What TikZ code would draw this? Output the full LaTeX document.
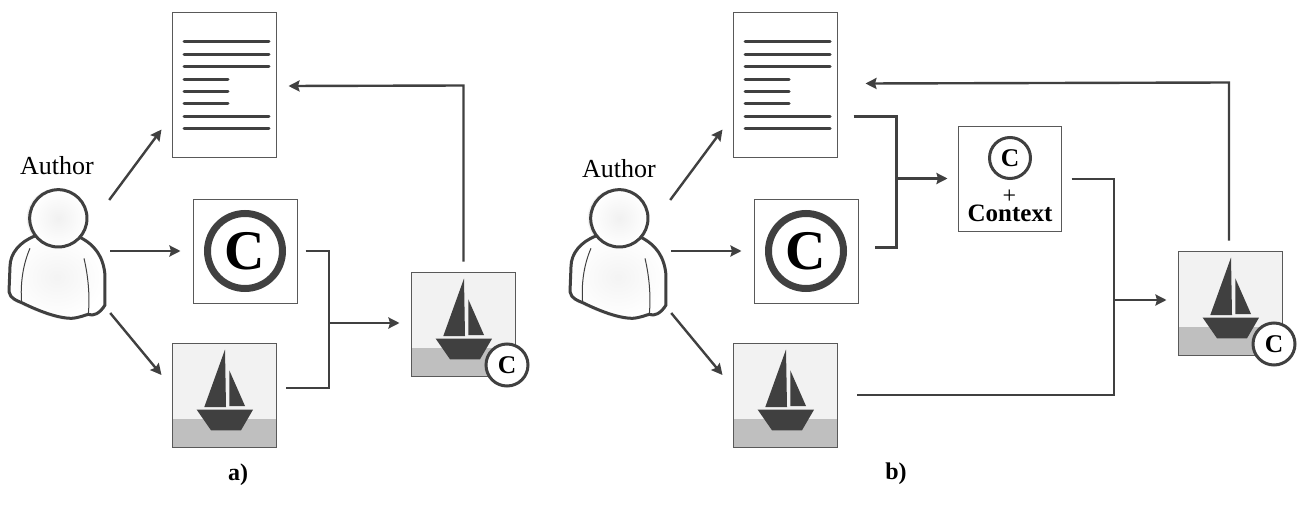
\documentclass[tikz,border=0pt]{standalone}
\usepackage{fontspec}
\setmainfont{Liberation Serif}
\usetikzlibrary{arrows.meta}
\definecolor{ink}{HTML}{404040}
\definecolor{edge}{HTML}{595959}
\definecolor{sky}{HTML}{F2F2F2}
\definecolor{water}{HTML}{BFBFBF}
\tikzset{
 flow/.style={draw=ink,line width=2.4pt},
 arrowflow/.style={flow,-{Stealth[length=11pt,width=11pt,inset=1.5pt]}},
 card/.style={draw=edge,line width=1pt,inner sep=0pt,minimum width=104pt,minimum height=104pt,fill=white},
 txtline/.style={draw=ink,line width=3pt,line cap=round},
 outline/.style={draw=ink,line width=3pt,line join=round},
 badge/.style={circle,draw=ink,line width=3pt,fill=white,inner sep=0pt,minimum size=42pt,font=\fontsize{25.5}{26}\selectfont\bfseries},
 label/.style={inner sep=0pt,font=\fontsize{26}{26}\selectfont},
 capt/.style={inner sep=0pt,font=\fontsize{24}{26}\selectfont\bfseries},
 ghost/.style={inner sep=0pt,minimum width=100pt,minimum height=130pt},
}
% document icon: #1 name, #2 x offset
\newcommand{\docicon}[2]{%
 \node[card,minimum height=145pt] (#1) at (#2+224,85.5) {};
 \begin{scope}[shift={(#2,0)}]
 \foreach \yy in {42,54.5,67,116.5,129}{\draw[txtline] (184,\yy) -- (269,\yy);}
 \foreach \yy in {79.5,92,104}{\draw[txtline] (184,\yy) -- (228,\yy);}
 \end{scope}}
% boat drawing at box top-left
\newcommand{\boatshape}[2]{%
 \begin{scope}[shift={(#1,#2)}]
 \fill[sky] (0,0) rectangle (104,76);
 \fill[water] (0,76) rectangle (104,104);
 \fill[ink] (53,6.5) -- (32.3,64) -- (54,64) -- cycle;
 \fill[ink] (57.3,27.3) -- (57.3,63) -- (73,63) -- cycle;
 \fill[ink] (24.7,66.7) -- (81,66.7) -- (69,87.3) -- (39,87.3) -- cycle;
 \draw[edge,line width=1pt] (0,0) rectangle (104,104);
 \end{scope}}
\newcommand{\boatcard}[3]{%
 \node[card,draw=none,fill=none] (#1) at (#2+52,#3+52) {};
 \boatshape{#2}{#3}}
% copyright card
\newcommand{\ccard}[2]{%
 \node[card] (#1) at (#2+245,251) {};
 \node[circle,draw=ink,line width=7pt,inner sep=0pt,minimum size=75pt,font=\fontsize{56}{56}\selectfont\bfseries] at (#1.center) {C};}
% person, drawn in the units of a 3x crop
\newcommand{\persondraw}[2]{%
 \node[ghost] (#1) at (#2+58,255) {};
 \begin{scope}[shift={(#2,150)},x=0.3333pt,y=-0.3333pt]
 \def\bodypath{(105,258) .. controls (60,275) and (30,310) .. (30,350) -- (27,425) .. controls (30,445) and (50,452) .. (65,458) .. controls (110,480) and (170,505) .. (215,505) .. controls (240,503) and (255,495) .. (265,493) .. controls (280,500) and (300,490) .. (315,465) -- (315,375) .. controls (310,320) and (285,285) .. (240,262) -- cycle}
 \fill[black,opacity=0.05,shift={(-4,5)}] \bodypath;
 \fill[black,opacity=0.05,shift={(-5,0)}] (175,205) circle (90);
 \shade[inner color=gray!9,outer color=white] \bodypath;
 \draw[outline] \bodypath;
 \draw[ink,line width=1pt] (90,295) .. controls (70,340) and (60,400) .. (65,458);
 \draw[ink,line width=1pt] (252,325) .. controls (265,380) and (270,440) .. (265,492);
 \shade[inner color=gray!11,outer color=white] (175,205) circle (86);
 \draw[outline] (175,205) circle (86);
 \end{scope}}
\begin{document}
\begin{tikzpicture}[x=1pt,y=-1pt]
\useasboundingbox (0,0) rectangle (1301,516);
\fill[white] (0,0) rectangle (1301,516);
% ---------- panel a
\node[label] (authorA) at (57,166) {Author};
\persondraw{personA}{0}
\docicon{docA}{0}
\ccard{copyA}{0}
\boatcard{boatA}{172}{343}
\boatcard{markedA}{411}{272}
\node[badge] (badgeA) at (507,365) {C};
\node[capt] (capA) at (238,475) {a)};
\coordinate (joinA) at (329,323);
\draw[arrowflow] ([shift={(1,-55)}]personA.east) -- ([shift={(-10,44)}]docA.west);
\draw[arrowflow] ([shift={(2,-4)}]personA.east) -- ([shift={(-12,0)}]copyA.west);
\draw[arrowflow] ([shift={(2,58)}]personA.east) -- ([shift={(-10,-20)}]boatA.west);
\draw[flow] ([xshift=8pt]copyA.east) -| (joinA) |- ([shift={(9,-7)}]boatA.east);
\draw[arrowflow] (joinA) -- ([xshift=-11pt]markedA.west |- joinA);
\draw[arrowflow] ([shift={(-52,-10)}]markedA.north east |- markedA.north) -- ++(0,-176) -- ([shift={(12,0.5)}]docA.east);
% ---------- panel b
\node[label] (authorB) at (619,169) {Author};
\persondraw{personB}{561}
\docicon{docB}{561}
\ccard{copyB}{561}
\boatcard{boatB}{733}{343}
\boatcard{markedB}{1178}{251}
\node[badge] (badgeB) at (1274,344) {C};
\node[card,minimum height=104pt,minimum width=103pt] (ctx) at (1009.5,179) {};
\node[circle,draw=ink,line width=3pt,fill=white,inner sep=0pt,minimum size=41pt,font=\fontsize{25.5}{26}\selectfont\bfseries] (ctxC) at (1010,158) {C};
\node[inner sep=0pt,font=\fontsize{24}{24}\selectfont] (plus) at (1009.5,197) {+};
\node[inner sep=0pt,font=\fontsize{25}{25}\selectfont\bfseries] (ctxT) at (1010,213.5) {Context};
\node[capt] (capB) at (896,474) {b)};
\coordinate (joinB) at (896.5,178.5);
\coordinate (joinC) at (1114,300);
\draw[arrowflow] ([shift={(1,-55)}]personB.east) -- ([shift={(-10,44)}]docB.west);
\draw[arrowflow] ([shift={(2,-4)}]personB.east) -- ([shift={(-12,0)}]copyB.west);
\draw[arrowflow] ([shift={(2,58)}]personB.east) -- ([shift={(-10,-20)}]boatB.west);
\draw[flow] ([shift={(16,31)}]docB.east) -| (joinB) |- ([shift={(16,-3.5)}]copyB.east);
\draw[arrowflow] (joinB) -- ([xshift=-10pt]ctx.west |- joinB);
\draw[flow] ([xshift=10pt]ctx.east) -| (joinC) |- ([xshift=19pt]boatB.east);
\draw[arrowflow] (joinC) -- ([xshift=-11pt]markedB.west |- joinC);
\draw[arrowflow] ([shift={(-1,-10)}]markedB.north) -- ++(0,-158) -- ([shift={(28,-2)}]docB.east);
\end{tikzpicture}
\end{document}
